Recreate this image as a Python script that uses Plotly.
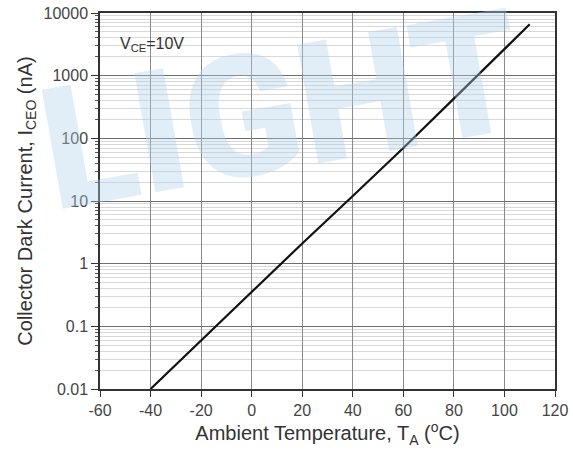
import plotly.graph_objects as go

# Data (straight line on log scale)
temperature_c = [-40, -20, 0, 20, 40, 60, 80, 100, 110]
dark_current_na = [0.01, 0.06, 0.36, 2.1, 12, 70, 430, 2600, 6600]

y_tickvals = [0.01, 0.1, 1, 10, 100, 1000, 10000]
y_ticktext = ["0.01", "0.1", "1", "10", "100", "1000", "10000"]
x_tickvals = [-60, -40, -20, 0, 20, 40, 60, 80, 100, 120]
x_ticktext = ["-60", "-40", "-20", "0", "20", "40", "60", "80", "100", "120"]

minor_vals = [m * d for d in [0.01, 0.1, 1, 10, 100, 1000] for m in range(2, 10)]

font_family = "Liberation Sans, Arial, sans-serif"

fig = go.Figure()
fig.add_trace(go.Scatter(
    x=temperature_c, y=dark_current_na, mode="lines",
    line=dict(color="#111111", width=2.2), showlegend=False,
))

fig.update_layout(
    width=573, height=459,
    margin=dict(l=100, r=18, t=13, b=70),
    paper_bgcolor="white", plot_bgcolor="white",
    font=dict(family=font_family, color="#333333", size=16),
)

fig.update_xaxes(
    range=[-60, 120], tickvals=x_tickvals, ticktext=x_ticktext,
    showgrid=True, gridcolor="#8a8a8a", gridwidth=1,
    ticks="outside", ticklen=6, tickcolor="#333333",
    showline=True, linecolor="#333333", linewidth=1.5, mirror=True,
    zeroline=False, automargin=False,
    tickfont=dict(size=16, color="#444444"),
    title=dict(text="Ambient Temperature, T<sub>A</sub> (<sup>o</sup>C)",
               font=dict(size=20, color="#333333"), standoff=8),
)

fig.update_yaxes(
    type="log", range=[-2, 4], tickvals=y_tickvals, ticktext=y_ticktext,
    showgrid=True, gridcolor="#6e6e6e", gridwidth=1,
    ticks="outside", ticklen=7, tickcolor="#333333",
    showline=True, linecolor="#333333", linewidth=1.5, mirror=True,
    zeroline=False, automargin=False,
    tickfont=dict(size=16, color="#444444"),
    minor=dict(tickvals=minor_vals, ticks="outside", ticklen=3,
               tickcolor="#555555", showgrid=True, gridcolor="#d8d8d8", gridwidth=1),
    title=dict(text="Collector Dark Current, I<sub>CEO</sub> (nA)",
               font=dict(size=20, color="#333333"), standoff=6),
)

# Faint watermark seen behind the reference chart
fig.add_annotation(
    x=0.40, y=0.74, xref="paper", yref="paper", xanchor="center", yanchor="middle",
    text="LIGHT", showarrow=False, textangle=-10,
    font=dict(size=170, color="rgba(175,210,236,0.38)", family="Roboto, Lato, sans-serif",
              weight=900),
)

fig.add_annotation(
    x=0.04, y=0.915, xref="paper", yref="paper", xanchor="left", yanchor="middle",
    text="V<sub>CE</sub>=10V", showarrow=False,
    font=dict(size=16, color="#333333"),
)

fig.write_html("out.html", config={"displayModeBar": False},
               post_script="document.body.style.margin='0';")
